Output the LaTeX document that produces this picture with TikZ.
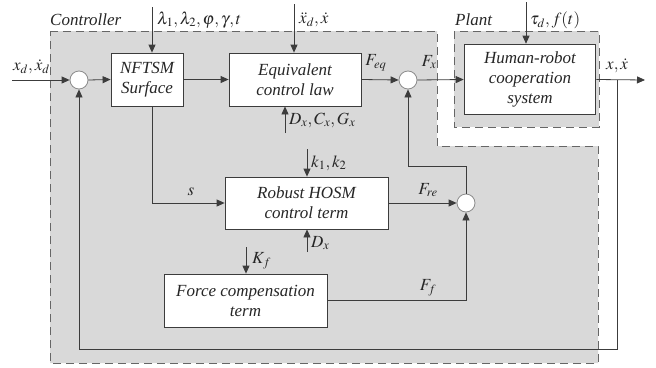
\documentclass[tikz,border=0pt]{standalone}
\usepackage{mathptmx}
\usepackage[no-math]{fontspec}
\setmainfont{Liberation Serif}
\usetikzlibrary{arrows.meta}
\definecolor{regiongray}{RGB}{217,217,217}
\definecolor{linegray}{RGB}{60,60,60}
\begin{document}
\begin{tikzpicture}[x=1pt,y=-1pt,
  every node/.style={font=\fontsize{17}{20}\selectfont\itshape, text=black!85, inner sep=0pt},
  region/.style={draw=black!60, line width=1pt, dash pattern=on 8pt off 5pt, fill=regiongray},
  blk/.style={draw=linegray, fill=white, line width=0.8pt, align=center},
  summer/.style={circle, draw=black!45, fill=white, line width=0.8pt, minimum size=18pt},
  arr/.style={draw=linegray, line width=0.8pt, -{Triangle[length=8pt,width=7pt]}},
  lbl/.style={font=\fontsize{17}{20}\selectfont}]
\useasboundingbox (0,0) rectangle (656,367);
% regions
\draw[region] (50,31) -- (437,31) -- (437,146) -- (598,146) -- (598,363) -- (50,363) -- cycle;
\draw[region] (454,31) rectangle (599,127);
\node[anchor=west] (ctl) at (50,20) {Controller};
\node[anchor=west] (plt) at (455,20) {Plant};
% blocks
\node[blk, minimum width=72pt, minimum height=53pt] (nft) at (147,79.5) {NFTSM\\Surface};
\node[blk, minimum width=132pt, minimum height=53pt] (eq) at (295,79.5) {Equivalent\\control law};
\node[blk, minimum width=163pt, minimum height=52pt] (rob) at (306.5,203) {Robust HOSM\\control term};
\node[blk, minimum width=163pt, minimum height=53pt] (frc) at (245.5,300.5) {Force compensation\\term};
\node[blk, line width=1.6pt, minimum width=131pt, minimum height=70pt] (hr) at (530,79.5) {Human-robot\\cooperation\\system};
% summers
\node[summer] (s1) at (79,80) {};
\node[summer] (s2) at (408,80) {};
\node[summer] (s3) at (466,203) {};
% free ends
\coordinate (in) at (12,80);
\coordinate (out) at (645,80);
\coordinate (br) at (617,80);
\coordinate (fb) at (617,349);
\coordinate (lam) at (152,7);
\coordinate (xdd) at (294,4);
\coordinate (dcg) at (285,133);
\coordinate (kk) at (307,149);
\coordinate (dx) at (307,252);
\coordinate (kf) at (246,247);
\coordinate (tau) at (526,2);
\coordinate (c3) at (466,166);
% connectors
\draw[arr] (in) -- (s1.west);
\draw[arr] (s1.east) -- (nft.west);
\draw[arr] (nft.east) -- (eq.west);
\draw[arr] (eq.east) -- (s2.west);
\draw[arr] (s2.east) -- (hr.west);
\draw[arr] (hr.east) -- (out);
\draw[arr] (br) -- (fb) -| (s1.south);
\draw[arr] (lam) -- (lam |- nft.north);
\draw[arr] (xdd) -- (xdd |- eq.north);
\draw[arr] (dcg) -- (dcg |- eq.south);
\draw[arr] (kk) -- (kk |- rob.north);
\draw[arr] (dx) -- (dx |- rob.south);
\draw[arr] (kf) -- (kf |- frc.north);
\draw[arr] (tau) -- (tau |- hr.north);
\draw[arr] (lam |- nft.south) |- (rob.west);
\draw[arr] (rob.east) -- (s3.west);
\draw[arr] (frc.east) -| (s3.south);
\draw[arr] (s3.north) -- (c3) -| (s2.south);
% labels
\node[lbl, anchor=west] (llam) at (157,20) {$\lambda_1,\lambda_2,\varphi,\gamma,t$};
\node[lbl, anchor=west] (lxdd) at (299,20) {$\ddot{x}_d,\dot{x}$};
\node[lbl, anchor=west] (lxd) at (13,67) {$x_d,\dot{x}_d$};
\node[lbl, anchor=west] (ldcg) at (289,120) {$D_x,C_x,G_x$};
\node[lbl, anchor=west] (lkk) at (311,163) {$k_1,k_2$};
\node[lbl, anchor=west] (ldx) at (311,243) {$D_x$};
\node[lbl, anchor=west] (lkf) at (252,261) {$K_f$};
\node[lbl] (lfeq) at (376,63) {$F_{eq}$};
\node[lbl] (lfx) at (429,62) {$F_x$};
\node[lbl] (lfre) at (428,190) {$F_{re}$};
\node[lbl] (lff) at (428,288) {$F_f$};
\node[lbl] (ls) at (191,192) {$s$};
\node[lbl, anchor=west] (ltau) at (530,20) {$\tau_d,f(t)$};
\node[lbl, anchor=west] (lxo) at (606,66) {$x,\dot{x}$};
\end{tikzpicture}
\end{document}
